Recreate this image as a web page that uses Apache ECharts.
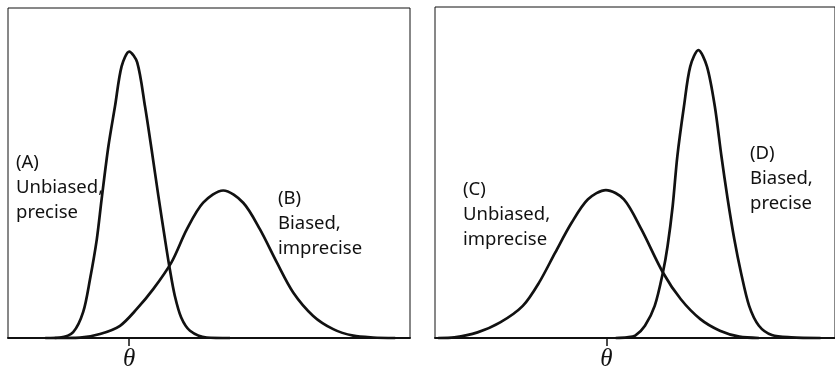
<!DOCTYPE html>
<html>
<head>
<meta charset="utf-8">
<script src="https://cdn.jsdelivr.net/npm/echarts@6/dist/echarts.min.js"></script>
<style>
html,body{margin:0;padding:0;background:#fff;}
#chart{width:835px;height:372px;}
</style>
</head>
<body>
<div id="chart"></div>
<script>
// x in units relative to the true value theta (0); y = relative density (0-100)
const curveA = [[-2.10,0],[-1.73,0.15],[-1.40,1.8],[-1.15,7.9],[-0.98,17.8],[-0.81,29.9],[-0.69,42.0],[-0.52,58.1],[-0.355,70.2],[-0.19,82.3],[0.0,86.8],[0.20,83.5],[0.395,70.2],[0.56,57.1],[0.73,43.0],[0.895,29.9],[1.02,20.5],[1.14,12.8],[1.30,6.2],[1.52,2.2],[1.94,0.15],[2.52,0]];
const curveB = [[-1.86,0],[-1.23,0.1],[-0.73,1.2],[-0.23,3.7],[0.19,8.8],[0.60,14.8],[1.06,23.0],[1.44,32.9],[1.85,41.0],[2.35,44.7],[2.85,41.0],[3.27,32.9],[3.69,22.9],[4.10,13.8],[4.60,6.7],[5.10,2.7],[5.60,0.7],[6.10,0.15],[6.65,0]];
const curveC = [[-4.31,0],[-3.89,0.2],[-3.30,1.7],[-2.72,4.7],[-2.14,9.7],[-1.72,16.8],[-1.31,25.8],[-0.89,34.8],[-0.47,41.9],[-0.01,44.7],[0.45,41.9],[0.90,32.8],[1.45,19.8],[1.91,11.7],[2.41,5.7],[2.91,2.2],[3.41,0.4],[3.91,0]];
const curveD = [[0.24,0],[0.53,0.2],[0.74,0.7],[0.99,3.7],[1.24,9.7],[1.45,19.8],[1.57,27.8],[1.70,39.8],[1.82,54.9],[1.99,70.0],[2.15,82.0],[2.36,87.0],[2.58,82.0],[2.78,70.0],[2.95,54.9],[3.11,41.9],[3.28,29.8],[3.45,19.8],[3.66,9.7],[3.91,3.7],[4.24,0.9],[4.74,0.2],[5.49,0]];
const tickValues = [0];
const tickLabel = 'θ';
const labelA = ['(A)', 'Unbiased,', 'precise'];
const labelB = ['(B)', 'Biased,', 'imprecise'];
const labelC = ['(C)', 'Unbiased,', 'imprecise'];
const labelD = ['(D)', 'Biased,', 'precise'];

const ink = '#111';
function xAxisCfg(idx, min, max) {
  return {
    gridIndex: idx, type: 'value', min: min, max: max,
    axisLine: {show: true, onZero: false, lineStyle: {color: ink, width: 2}},
    axisTick: {show: true, customValues: tickValues, length: 8, lineStyle: {color: ink, width: 1.5}},
    axisLabel: {show: true, customValues: tickValues, formatter: () => tickLabel,
      fontFamily: 'Liberation Serif', fontStyle: 'italic', fontSize: 25, color: ink, margin: 9},
    splitLine: {show: false}
  };
}
function yAxisCfg(idx) {
  return {gridIndex: idx, type: 'value', min: 0, max: 100, show: false};
}
function lineSeries(idx, data) {
  return {
    type: 'line', xAxisIndex: idx, yAxisIndex: idx, data: data,
    showSymbol: false, smooth: 0.3, clip: false,
    lineStyle: {color: ink, width: 2.7}, silent: true
  };
}
function textEl(lines, x, y) {
  return {
    type: 'text', x: x, y: y,
    style: {text: lines.join('\n'), fontFamily: 'Noto Sans', fontSize: 18.5, lineHeight: 25,
      fill: '#111', align: 'left', verticalAlign: 'top'}
  };
}

const chart = echarts.init(document.getElementById('chart'), null, {renderer: 'canvas'});
chart.setOption({
  animation: false,
  backgroundColor: '#fff',
  grid: [
    {left: 8, top: 8, width: 402, height: 331, show: true, borderColor: '#111', borderWidth: 1},
    {left: 435, top: 7, width: 410, height: 332, show: true, borderColor: '#111', borderWidth: 1}
  ],
  xAxis: [xAxisCfg(0, -3.03, 7.02), xAxisCfg(1, -4.39, 5.86)],
  yAxis: [yAxisCfg(0), yAxisCfg(1)],
  series: [
    lineSeries(0, curveA), lineSeries(0, curveB),
    lineSeries(1, curveC), lineSeries(1, curveD)
  ],
  graphic: [
    textEl(labelA, 16, 150),
    textEl(labelB, 278, 186),
    textEl(labelC, 463, 177),
    textEl(labelD, 750, 141)
  ]
});
</script>
</body>
</html>
